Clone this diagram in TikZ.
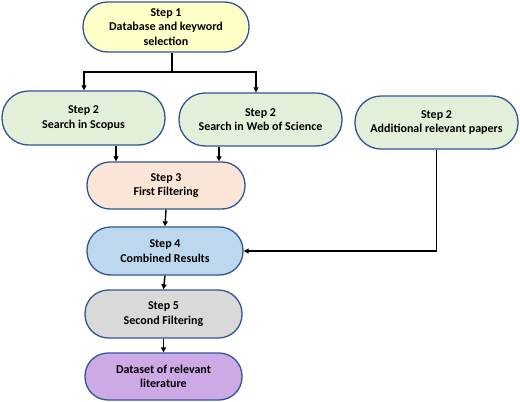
\documentclass[tikz,border=0pt]{standalone}
\usepackage{fontspec}
\setmainfont{Carlito}
\usetikzlibrary{arrows.meta}
\definecolor{edgeblue}{HTML}{2F5597}
\definecolor{cyel}{HTML}{FFFFC8}
\definecolor{cgrn}{HTML}{E2F0D9}
\definecolor{cpea}{HTML}{FBE5D6}
\definecolor{cblu}{HTML}{BDD7EE}
\definecolor{cgry}{HTML}{D9D9D9}
\definecolor{cpur}{HTML}{CDA9E6}
\tikzset{
  stepbox/.style={draw=edgeblue, line width=1.3pt, align=center, inner sep=0pt,
    font=\fontsize{12}{14.5}\selectfont\bfseries},
  arr/.style={draw=black, line width=1.4pt, -{Triangle[length=5pt,width=5pt]}},
  ln/.style={draw=black, line width=1.4pt}
}
\begin{document}
\begin{tikzpicture}[x=1pt,y=-1pt]
\useasboundingbox (0,0) rectangle (520,402);
\node[stepbox, fill=cyel, minimum width=166pt, minimum height=50pt, rounded corners=24.5pt] (s1) at (166,27) {Step 1\\Database and keyword\\selection};
\node[stepbox, fill=cgrn, minimum width=163pt, minimum height=54pt, rounded corners=26.5pt] (sc) at (83.5,118) {Step 2\\Search in Scopus};
\node[stepbox, fill=cgrn, minimum width=163pt, minimum height=53pt, rounded corners=26pt] (ws) at (260.5,119.5) {Step 2\\Search in Web of Science};
\node[stepbox, fill=cgrn, minimum width=163pt, minimum height=53pt, rounded corners=26pt] (ad) at (436.5,122.5) {Step 2\\Additional relevant papers};
\node[stepbox, fill=cpea, minimum width=158pt, minimum height=47pt, rounded corners=23pt] (s3) at (166,185.5) {Step 3\\First Filtering};
\node[stepbox, fill=cblu, minimum width=156pt, minimum height=48pt, rounded corners=23.5pt] (s4) at (165,251) {Step 4\\Combined Results};
\node[stepbox, fill=cgry, minimum width=157pt, minimum height=48pt, rounded corners=23.5pt] (s5) at (163.5,314) {Step 5\\Second Filtering};
\node[stepbox, fill=cpur, minimum width=157pt, minimum height=47pt, rounded corners=23pt] (s6) at (163.5,376.5) {Dataset of relevant\\literature};
\coordinate (fork) at (172,72);
\coordinate (fl) at (84,72);
\coordinate (fr) at (256,72);
\coordinate (xa) at (116,0);
\coordinate (xb) at (219,0);
\draw[ln] (s1.south -| fork) -- (fork);
\draw[arr] (fork) -- (fl) -- (fl |- sc.north);
\draw[arr] (fork) -- (fr) -- (fr |- ws.north);
\draw[arr] (sc.south -| xa) -- (s3.north -| xa);
\draw[arr] (ws.south -| xb) -- (s3.north -| xb);
\draw[arr] (s3.south) -- (s4.north);
\draw[arr] (ad.south) -- (ad.south |- s4.east) -- (s4.east);
\draw[arr] (s4.south) -- (s5.north);
\draw[arr] (s5.south) -- (s6.north);
\end{tikzpicture}
\end{document}
